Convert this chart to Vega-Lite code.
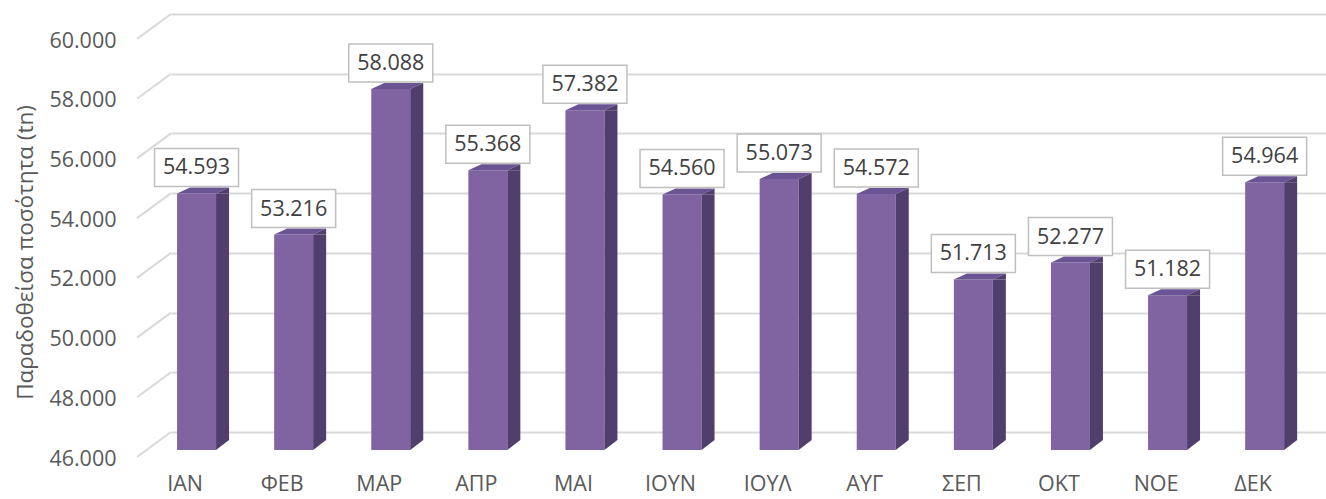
{
  "$schema": "https://vega.github.io/schema/vega-lite/v6.json",
  "width": 1155,
  "height": 418,
  "autosize": {"type": "none"},
  "padding": {"left": 171, "top": 14, "right": 0, "bottom": 67},
  "background": "white",
  "config": {
    "view": {"stroke": null},
    "font": "Open Sans",
    "locale": {"number": {"decimal": ",", "thousands": ".", "grouping": [3], "currency": ["", " €"]}}
  },
  "datasets": {
    "months": [
      {"m": "ΙΑΝ", "v": 54593},
      {"m": "ΦΕΒ", "v": 53216},
      {"m": "ΜΑΡ", "v": 58088},
      {"m": "ΑΠΡ", "v": 55368},
      {"m": "ΜΑΙ", "v": 57382},
      {"m": "ΙΟΥΝ", "v": 54560},
      {"m": "ΙΟΥΛ", "v": 55073},
      {"m": "ΑΥΓ", "v": 54572},
      {"m": "ΣΕΠ", "v": 51713},
      {"m": "ΟΚΤ", "v": 52277},
      {"m": "ΝΟΕ", "v": 51182},
      {"m": "ΔΕΚ", "v": 54964}
    ],
    "ticks": [
      {"t": 46000}, {"t": 48000}, {"t": 50000}, {"t": 52000},
      {"t": 54000}, {"t": 56000}, {"t": 58000}, {"t": 60000}
    ]
  },
  "encoding": {
    "x": {
      "field": "m", "type": "nominal", "sort": null,
      "scale": {"paddingInner": 0, "paddingOuter": 0, "range": [0, 1165.2]},
      "axis": {
        "title": null, "domain": false, "ticks": false, "tickSize": 0,
        "labelAngle": 0, "labelFontSize": 21.5, "labelColor": "#595959",
        "labelPadding": 52, "labelOffset": -34.5, "labelBaseline": "middle"
      }
    },
    "y": {
      "type": "quantitative",
      "scale": {"domain": [46000, 60000], "nice": false, "zero": false},
      "axis": {
        "title": "Παραδοθείσα ποσότητα (tn)",
        "titleFontSize": 22.5, "titleFontWeight": "normal", "titleColor": "#595959",
        "titleX": -146, "titleY": 238, "titleBaseline": "middle", "titleAngle": -90,
        "values": [46000, 48000, 50000, 52000, 54000, 56000, 58000, 60000],
        "format": ",d",
        "domain": false, "ticks": false, "tickSize": 0,
        "labelFontSize": 21.5, "labelColor": "#595959",
        "labelPadding": 55, "labelOffset": 27,
        "grid": true, "gridColor": "#d9d9d9", "gridWidth": 2
      }
    }
  },
  "layer": [
    {
      "data": {"name": "ticks"},
      "mark": {"type": "point", "shape": "M-48.55,0L-82.55,25", "size": 4, "filled": false, "stroke": "#d9d9d9", "strokeWidth": 2, "opacity": 1},
      "encoding": {"x": {"datum": "ΙΑΝ"}, "y": {"field": "t"}}
    },
    {
      "data": {"name": "months"},
      "mark": {"type": "bar", "width": 39, "xOffset": -23, "yOffset": 18, "y2Offset": 18, "color": "#8064A2"},
      "encoding": {"y": {"field": "v"}, "y2": {"datum": 46000}}
    },
    {
      "data": {"name": "months"},
      "mark": {"type": "bar", "width": 13, "xOffset": 3, "yOffset": 18, "y2Offset": 8, "color": "#503E6C"},
      "encoding": {"y": {"field": "v"}, "y2": {"datum": 46000}}
    },
    {
      "data": {"name": "months"},
      "mark": {"type": "point", "shape": "M0,0L39,0L52,-6L13,-6Z", "size": 4, "filled": true, "opacity": 1, "color": "#6A5493", "strokeWidth": 0, "xOffset": -42.5, "yOffset": 18},
      "encoding": {"y": {"field": "v"}}
    },
    {
      "data": {"name": "months"},
      "mark": {"type": "point", "shape": "M39,0L52,-6L52,0Z", "size": 4, "filled": true, "opacity": 1, "color": "#503E6C", "strokeWidth": 0, "xOffset": -42.5, "yOffset": 18},
      "encoding": {"y": {"field": "v"}}
    },
    {
      "data": {"name": "months"},
      "mark": {"type": "point", "shape": "M39,0L39,-10L52,-10Z", "size": 4, "filled": true, "opacity": 1, "color": "#503E6C", "strokeWidth": 0, "xOffset": -42.5, "yOffset": 18},
      "encoding": {"y": {"datum": 46000}}
    },
    {
      "data": {"name": "months"},
      "mark": {"type": "point", "shape": "M-42,-19L42,-19L42,19L-42,19Z", "size": 4, "filled": true, "opacity": 1, "fill": "white", "stroke": "#bfbfbf", "strokeWidth": 1.5, "xOffset": -23, "yOffset": -8},
      "encoding": {"y": {"field": "v"}}
    },
    {
      "data": {"name": "months"},
      "mark": {"type": "text", "fontSize": 21.5, "color": "#404040", "baseline": "middle", "align": "center", "xOffset": -23, "yOffset": -7},
      "encoding": {"y": {"field": "v"}, "text": {"field": "v", "type": "quantitative", "format": ",d"}}
    }
  ]
}
